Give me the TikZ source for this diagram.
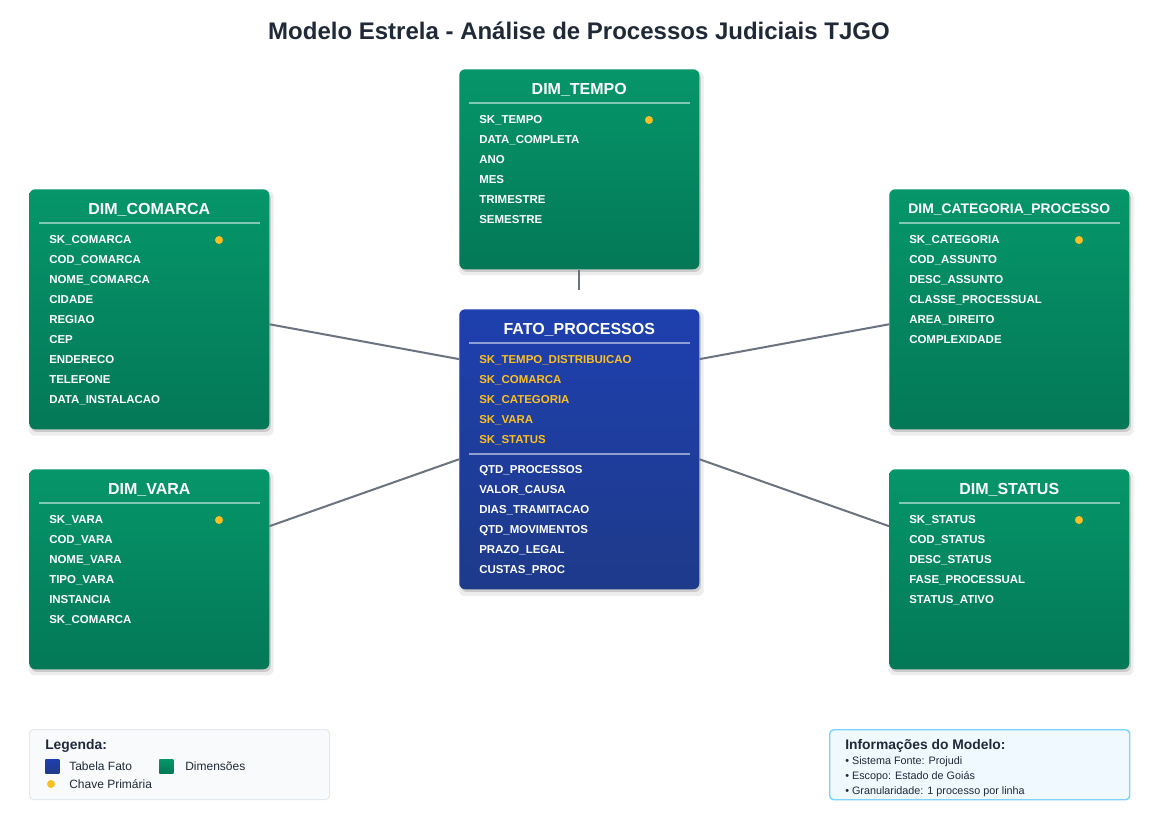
\documentclass[tikz,border=0pt]{standalone}
\usepackage{fontspec}
\setmainfont{Liberation Sans}
\usetikzlibrary{calc,shadows}
\definecolor{dimtop}{HTML}{059669}
\definecolor{dimbot}{HTML}{047857}
\definecolor{fatotop}{HTML}{1E40AF}
\definecolor{fatobot}{HTML}{1E3A8A}
\definecolor{chave}{HTML}{FBBF24}
\definecolor{linkcor}{HTML}{6B7280}
\definecolor{tinta}{HTML}{1F2937}
\definecolor{legfill}{HTML}{F8FAFC}
\definecolor{legbord}{HTML}{E2E8F0}
\definecolor{infofill}{HTML}{F0F9FF}
\definecolor{infobord}{HTML}{7DD3FC}
\tikzset{
  tabela/.style={rectangle,rounded corners=4.5pt,minimum width=180pt,anchor=north west,
    drop shadow={shadow xshift=1.5pt,shadow yshift=-3pt,shadow scale=1.02,fill=black,opacity=0.07},
    drop shadow={shadow xshift=1.2pt,shadow yshift=-2pt,fill=black,opacity=0.14}},
  dimbox/.style={tabela,top color=dimtop,bottom color=dimbot},
  fatobox/.style={tabela,top color=fatotop,bottom color=fatobot},
  titulo/.style={text=white,font=\bfseries\fontsize{12}{14}\selectfont,anchor=base,inner sep=0pt},
  campos/.style={text=white,font=\bfseries\fontsize{8.6}{15}\selectfont,align=left,anchor=north west,inner sep=0pt},
  pk/.style={circle,fill=chave,inner sep=0pt,minimum size=6pt},
  sep/.style={white,opacity=0.5,line width=1.5pt},
  link/.style={linkcor,line width=1.5pt}
}
\begin{document}
\begin{tikzpicture}[x=0.75pt,y=-0.75pt]
    \useasboundingbox[fill=white] (0,0) rectangle (1175,828);
    %% Title
    \node[text=tinta,font=\bfseries\fontsize{18}{22}\selectfont,anchor=base,inner sep=0pt] (title) at (579,40) {Modelo Estrela - Análise de Processos Judiciais TJGO};
    %% Tables
    \node[dimbox,minimum height=150pt] (tempo) at (459,69) {};
    \node[dimbox,minimum height=180pt] (comarca) at (29,189) {};
    \node[dimbox,minimum height=180pt] (categoria) at (889,189) {};
    \node[fatobox,minimum height=210pt] (fato) at (459,309) {};
    \node[dimbox,minimum height=150pt] (vara) at (29,469) {};
    \node[dimbox,minimum height=150pt] (status) at (889,469) {};
    %% Links
    \coordinate (tempo-end) at ($(tempo.south)+(0,20)$);
    \draw[link] (tempo.south) -- (tempo-end);
    \draw[link] ($(comarca.north east)!0.5625!(comarca.south east)$) -- ($(fato.north west)!0.1786!(fato.south west)$);
    \draw[link] ($(categoria.north west)!0.5625!(categoria.south west)$) -- ($(fato.north east)!0.1786!(fato.south east)$);
    \draw[link] ($(vara.north east)!0.285!(vara.south east)$) -- ($(fato.north west)!0.5357!(fato.south west)$);
    \draw[link] ($(status.north west)!0.285!(status.south west)$) -- ($(fato.north east)!0.5357!(fato.south east)$);
    %% DIM_TEMPO
    \node[titulo] (tempo-t) at ($(tempo.north)+(0,25)$) {DIM\_TEMPO};
    \draw[sep] ($(tempo.north west)+(10,34)$) -- ($(tempo.north east)+(-10,34)$);
    \node[campos] (tempo-c) at ($(tempo.north west)+(20,46)$) {SK\_TEMPO\\DATA\_COMPLETA\\ANO\\MES\\TRIMESTRE\\SEMESTRE};
    \node[pk] (tempo-pk) at ($(tempo.north west)+(190,51)$) {};
    %% DIM_COMARCA
    \node[titulo] (comarca-t) at ($(comarca.north)+(0,25)$) {DIM\_COMARCA};
    \draw[sep] ($(comarca.north west)+(10,34)$) -- ($(comarca.north east)+(-10,34)$);
    \node[campos] (comarca-c) at ($(comarca.north west)+(20,46)$) {SK\_COMARCA\\COD\_COMARCA\\NOME\_COMARCA\\CIDADE\\REGIAO\\CEP\\ENDERECO\\TELEFONE\\DATA\_INSTALACAO};
    \node[pk] (comarca-pk) at ($(comarca.north west)+(190,51)$) {};
    %% DIM_CATEGORIA_PROCESSO
    \node[titulo,font=\bfseries\fontsize{10.4}{12}\selectfont] (categoria-t) at ($(categoria.north)+(0,24)$) {DIM\_CATEGORIA\_PROCESSO};
    \draw[sep] ($(categoria.north west)+(10,34)$) -- ($(categoria.north east)+(-10,34)$);
    \node[campos] (categoria-c) at ($(categoria.north west)+(20,46)$) {SK\_CATEGORIA\\COD\_ASSUNTO\\DESC\_ASSUNTO\\CLASSE\_PROCESSUAL\\AREA\_DIREITO\\COMPLEXIDADE};
    \node[pk] (categoria-pk) at ($(categoria.north west)+(190,51)$) {};
    %% FATO_PROCESSOS
    \node[titulo] (fato-t) at ($(fato.north)+(0,25)$) {FATO\_PROCESSOS};
    \draw[sep] ($(fato.north west)+(10,34)$) -- ($(fato.north east)+(-10,34)$);
    \node[campos,text=chave] (fato-fk) at ($(fato.north west)+(20,46)$) {SK\_TEMPO\_DISTRIBUICAO\\SK\_COMARCA\\SK\_CATEGORIA\\SK\_VARA\\SK\_STATUS};
    \draw[sep] ($(fato.north west)+(10,145)$) -- ($(fato.north east)+(-10,145)$);
    \node[campos] (fato-m) at ($(fato.north west)+(20,156)$) {QTD\_PROCESSOS\\VALOR\_CAUSA\\DIAS\_TRAMITACAO\\QTD\_MOVIMENTOS\\PRAZO\_LEGAL\\CUSTAS\_PROC};
    %% DIM_VARA
    \node[titulo] (vara-t) at ($(vara.north)+(0,25)$) {DIM\_VARA};
    \draw[sep] ($(vara.north west)+(10,34)$) -- ($(vara.north east)+(-10,34)$);
    \node[campos] (vara-c) at ($(vara.north west)+(20,46)$) {SK\_VARA\\COD\_VARA\\NOME\_VARA\\TIPO\_VARA\\INSTANCIA\\SK\_COMARCA};
    \node[pk] (vara-pk) at ($(vara.north west)+(190,51)$) {};
    %% DIM_STATUS
    \node[titulo] (status-t) at ($(status.north)+(0,25)$) {DIM\_STATUS};
    \draw[sep] ($(status.north west)+(10,34)$) -- ($(status.north east)+(-10,34)$);
    \node[campos] (status-c) at ($(status.north west)+(20,46)$) {SK\_STATUS\\COD\_STATUS\\DESC\_STATUS\\FASE\_PROCESSUAL\\STATUS\_ATIVO};
    \node[pk] (status-pk) at ($(status.north west)+(190,51)$) {};
    %% Legend
    \node[draw=legbord,fill=legfill,line width=0.75pt,rounded corners=3pt,minimum width=225pt,minimum height=52.5pt,anchor=north west] (legenda) at (29,729) {};
    \node[text=tinta,font=\bfseries\fontsize{10.4}{12}\selectfont,anchor=base west,inner sep=0pt] (legenda-t) at (45,749) {Legenda:};
    \node[top color=fatotop,bottom color=fatobot,minimum size=10.5pt,inner sep=0pt,anchor=north west] (leg-fato) at (45,759) {};
    \node[text=tinta,font=\fontsize{9}{11}\selectfont,anchor=base west,inner sep=0pt] (leg-fato-t) at (69,770) {Tabela Fato};
    \node[top color=dimtop,bottom color=dimbot,minimum size=10.5pt,inner sep=0pt,anchor=north west] (leg-dim) at (159,759) {};
    \node[text=tinta,font=\fontsize{9}{11}\selectfont,anchor=base west,inner sep=0pt] (leg-dim-t) at (185,770) {Dimensões};
    \node[pk] (leg-pk) at (51,784) {};
    \node[text=tinta,font=\fontsize{9}{11}\selectfont,anchor=base west,inner sep=0pt] (leg-pk-t) at (69,788) {Chave Primária};
    %% Model info
    \node[draw=infobord,fill=infofill,line width=1.1pt,rounded corners=3pt,minimum width=225pt,minimum height=52.5pt,anchor=north west] (info) at (829,729) {};
    \node[text=tinta,font=\bfseries\fontsize{10.4}{12}\selectfont,anchor=base west,inner sep=0pt] (info-t) at (845,749) {Informações do Modelo:};
    \node[text=tinta,font=\fontsize{8.1}{11.25}\selectfont,align=left,anchor=north west,inner sep=0pt] (info-c) at (845,756) {• Sistema Fonte: Projudi\\• Escopo: Estado de Goiás\\• Granularidade: 1 processo por linha};
\end{tikzpicture}
\end{document}
